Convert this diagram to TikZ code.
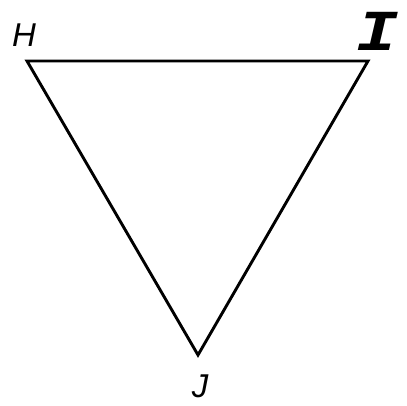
\documentclass[tikz,border=0pt]{standalone}
\usepackage{fontspec}
\setsansfont{Liberation Sans}
\newfontfamily\boldmono{Liberation Mono}
\begin{document}
\begin{tikzpicture}[
        x=1pt, y=-1pt,
        every node/.style={inner sep=0pt, font=\sffamily\itshape\fontsize{33}{33}\selectfont},
        side/.style={line width=2.9pt, line join=miter}
    ]
    \useasboundingbox (0,0) rectangle (407,406);
    \coordinate (H) at (27,61);
    \coordinate (I) at (368,61);
    \coordinate (J) at (198,355);
    \draw[side] (H) -- (I) -- (J) -- cycle;
    \node (labelH) at (24,35) {H};
    \node[font=\boldmono\bfseries\itshape\fontsize{58}{58}\selectfont, xscale=1.2] (labelI) at (377,31) {I};
    \node (labelJ) at (200,386) {J};
\end{tikzpicture}
\end{document}
